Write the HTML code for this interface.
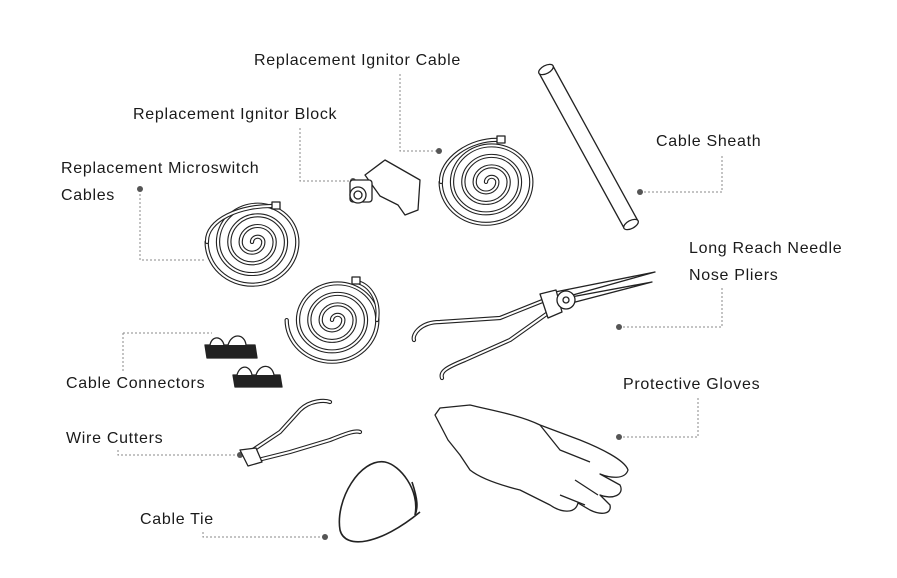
<!DOCTYPE html>
<html><head><meta charset="utf-8"><style>
html,body{margin:0;padding:0;background:#fff;}
svg{display:block}
text{font-family:"Liberation Sans",sans-serif;font-size:16px;letter-spacing:0.7px;fill:#1a1a1a;}
.ld{fill:none;stroke:#888;stroke-width:1;stroke-dasharray:2 2}
.dot{fill:#555}
.o{fill:none;stroke:#222;stroke-width:4.2;stroke-linecap:round;stroke-linejoin:round}
.i{fill:none;stroke:#fff;stroke-width:2;stroke-linecap:round;stroke-linejoin:round}
.l{fill:#fff;stroke:#222;stroke-width:1.3;stroke-linejoin:round}
</style></head><body>
<svg width="897" height="578" viewBox="0 0 897 578">
<defs>
<path id="sp" d="M0,0 a5.5,5.5 0 0 1 11,0 a11,11 0 0 1 -22,0 a16.5,16.5 0 0 1 33,0 a22,22 0 0 1 -44,0 a27.5,27.5 0 0 1 55,0 a33,33 0 0 1 -66,0 a38.5,38.5 0 0 1 77,0 a44,44 0 0 1 -88,0"/>
</defs>
<text x="254" y="65">Replacement Ignitor Cable</text>
<text x="133" y="119">Replacement Ignitor Block</text>
<text x="61" y="173">Replacement Microswitch</text>
<text x="61" y="200">Cables</text>
<text x="656" y="146">Cable Sheath</text>
<text x="689" y="253">Long Reach Needle</text>
<text x="689" y="280">Nose Pliers</text>
<text x="66" y="388">Cable Connectors</text>
<text x="623" y="389">Protective Gloves</text>
<text x="66" y="443">Wire Cutters</text>
<text x="140" y="524">Cable Tie</text>
<path class="ld" d="M400,74 V151 H438"/><circle class="dot" cx="439" cy="151" r="3"/>
<path class="ld" d="M300,128 V181 H352"/><circle class="dot" cx="353" cy="181" r="3"/>
<path class="ld" d="M140,190 V260 H205"/><circle class="dot" cx="140" cy="189" r="3"/>
<path class="ld" d="M640,192 H722 V154"/><circle class="dot" cx="640" cy="192" r="3"/>
<path class="ld" d="M619,327 H722 V288"/><circle class="dot" cx="619" cy="327" r="3"/>
<path class="ld" d="M123,333 H212 M123,333 V372"/>
<path class="ld" d="M619,437 H698 V398"/><circle class="dot" cx="619" cy="437" r="3"/>
<path class="ld" d="M118,450 V455 H240"/><circle class="dot" cx="240" cy="455" r="3"/>
<path class="ld" d="M203,532 V537 H325"/><circle class="dot" cx="325" cy="537" r="3"/>
<g transform="translate(486,182) scale(1.03,0.95)"><use href="#sp" class="o"/><use href="#sp" class="i"/></g>
<path class="o" d="M441,182 C440,160 470,138 500,140"/><path class="i" d="M441,182 C440,160 470,138 500,140"/>
<rect x="497" y="136" width="8" height="7" class="l"/>
<g transform="translate(252,242) scale(1.03,0.97)"><use href="#sp" class="o"/><use href="#sp" class="i"/></g>
<path class="o" d="M207,242 C206,220 240,205 275,206"/><path class="i" d="M207,242 C206,220 240,205 275,206"/>
<rect x="272" y="202" width="8" height="7" class="l"/>
<g transform="translate(332,320) scale(1.03,0.95)"><use href="#sp" class="o"/><use href="#sp" class="i"/></g>
<path class="o" d="M377,320 C380,300 370,285 357,282"/><path class="i" d="M377,320 C380,300 370,285 357,282"/>
<rect x="352" y="277" width="8" height="7" class="l"/>
<path class="l" d="M365,175 L385,160 L420,180 L418,210 L405,215 L398,205 L380,196 Z"/>
<rect x="350" y="180" width="22" height="22" rx="3" class="l"/>
<circle cx="358" cy="195" r="8" class="l"/><circle cx="358" cy="195" r="4" class="l"/>
<!-- sheath -->
<path class="l" d="M539,73 L553,66 L638,221 L624,228 Z"/>
<ellipse cx="546" cy="69.5" rx="8" ry="4" transform="rotate(-28 546 69.5)" class="l"/>
<ellipse cx="631" cy="224.5" rx="8" ry="4" transform="rotate(-28 631 224.5)" class="l"/>
<path class="l" d="M555,300 L655,272 L555,292 Z"/>
<path class="l" d="M555,300 L652,282 L560,306 Z"/>
<path class="o" d="M550,298 L500,318 L440,322 C420,322 412,335 414,340"/><path class="i" d="M550,298 L500,318 L440,322 C420,322 412,335 414,340"/>
<path class="o" d="M555,308 L510,340 L465,360 C445,368 440,372 442,378"/><path class="i" d="M555,308 L510,340 L465,360 C445,368 440,372 442,378"/>
<path class="l" d="M540,294 L556,290 L562,312 L548,318 Z"/>
<circle cx="566" cy="300" r="9" class="l"/><circle cx="566" cy="300" r="3" class="l"/>
<path class="l" d="M205,345 L255,345 L257,358 L207,358 Z" style="fill:#222"/>
<path class="l" d="M210,345 C212,335 222,336 224,345 M228,345 C232,332 245,334 246,345"/>
<path class="l" d="M233,375 L280,375 L282,387 L235,387 Z" style="fill:#222"/>
<path class="l" d="M237,375 C240,364 250,365 252,375 M256,375 C260,363 272,364 274,375"/>
<path class="o" d="M250,452 L280,432 L300,410 C310,400 325,400 330,402"/><path class="i" d="M250,452 L280,432 L300,410 C310,400 325,400 330,402"/>
<path class="o" d="M258,460 L290,452 L330,440 C345,434 355,430 360,432"/><path class="i" d="M258,460 L290,452 L330,440 C345,434 355,430 360,432"/>
<path class="l" d="M240,450 L256,448 L262,462 L248,466 Z"/>
<path fill="none" stroke="#222" stroke-width="1.6" d="M412,482 C418,500 418,508 415,515 C420,490 400,465 385,462 C360,458 335,500 340,530 C345,550 380,545 420,512"/>
<path class="l" d="M440,408 L470,405 C490,410 520,415 540,425 L580,440 C600,448 625,460 628,470 C625,480 610,478 600,474 L620,485 C625,495 612,500 600,495 L610,505 C612,515 600,515 590,510 L578,503 C575,515 560,512 550,505 L520,490 C500,485 480,478 470,470 L460,455 L448,440 L435,415 Z"/>
<path class="l" d="M540,425 L560,450 L590,462 M575,480 L598,495 M560,495 L585,505"/>
</svg>
</body></html>
